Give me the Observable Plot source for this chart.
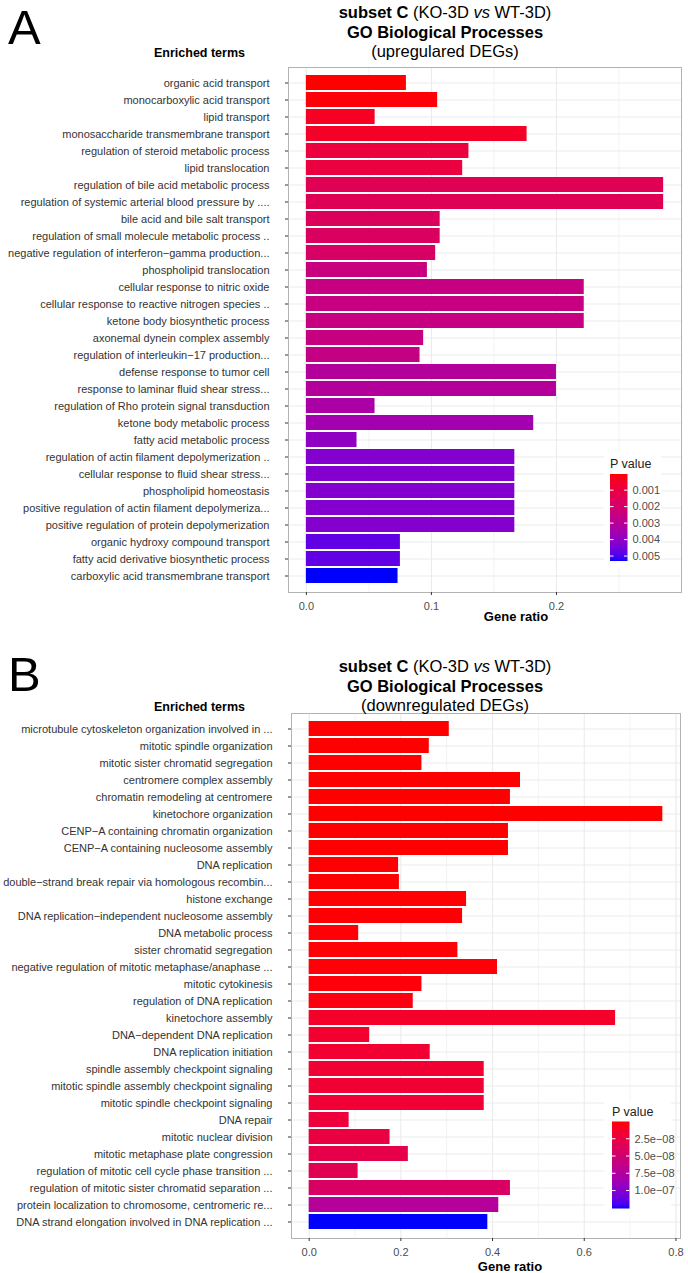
<!DOCTYPE html>
<html>
<head>
<meta charset="utf-8">
<script src="https://cdn.jsdelivr.net/npm/d3@7"></script>
<script src="https://cdn.jsdelivr.net/npm/@observablehq/plot@0.6"></script>
<style>
  html, body { margin: 0; padding: 0; background: #fff; }
  #page { position: relative; width: 688px; height: 1273px; background: #fff; overflow: hidden; }
  .chart { position: absolute; left: 0; }
  #overlay { position: absolute; left: 0; top: 0; pointer-events: none; }
</style>
</head>
<body>
<div id="page">
  <div id="chartA" class="chart" style="top:0px"></div>
  <div id="chartB" class="chart" style="top:646px"></div>
</div>
<script>
// ---------------- DATA ----------------
const termsA = [
  "organic acid transport",
  "monocarboxylic acid transport",
  "lipid transport",
  "monosaccharide transmembrane transport",
  "regulation of steroid metabolic process",
  "lipid translocation",
  "regulation of bile acid metabolic process",
  "regulation of systemic arterial blood pressure by ....",
  "bile acid and bile salt transport",
  "regulation of small molecule metabolic process ..",
  "negative regulation of interferon\u2212gamma production...",
  "phospholipid translocation",
  "cellular response to nitric oxide",
  "cellular response to reactive nitrogen species ..",
  "ketone body biosynthetic process",
  "axonemal dynein complex assembly",
  "regulation of interleukin\u221217 production...",
  "defense response to tumor cell",
  "response to laminar fluid shear stress...",
  "regulation of Rho protein signal transduction",
  "ketone body metabolic process",
  "fatty acid metabolic process",
  "regulation of actin filament depolymerization ..",
  "cellular response to fluid shear stress...",
  "phospholipid homeostasis",
  "positive regulation of actin filament depolymeriza...",
  "positive regulation of protein depolymerization",
  "organic hydroxy compound transport",
  "fatty acid derivative biosynthetic process",
  "carboxylic acid transmembrane transport"
];
const ratioA = [
  0.080, 0.105, 0.055, 0.1765, 0.130, 0.125, 0.2857, 0.2857, 0.107, 0.107,
  0.1034, 0.0968, 0.2222, 0.2222, 0.2222, 0.0938, 0.0909, 0.200, 0.200, 0.0549,
  0.1818, 0.0405, 0.1667, 0.1667, 0.1667, 0.1667, 0.1667, 0.0752, 0.0752, 0.0733
];
const pA = [
  0.00002, 0.00008, 0.00045, 0.00050, 0.00095, 0.00100, 0.00145, 0.00150, 0.00165, 0.00170,
  0.00185, 0.00240, 0.00250, 0.00250, 0.00250, 0.00245, 0.00255, 0.00310, 0.00310, 0.00335,
  0.00355, 0.00400, 0.00425, 0.00425, 0.00425, 0.00425, 0.00425, 0.00475, 0.00475, 0.00530
];

const termsB = [
  "microtubule cytoskeleton organization involved in ...",
  "mitotic spindle organization",
  "mitotic sister chromatid segregation",
  "centromere complex assembly",
  "chromatin remodeling at centromere",
  "kinetochore organization",
  "CENP\u2212A containing chromatin organization",
  "CENP\u2212A containing nucleosome assembly",
  "DNA replication",
  "double\u2212strand break repair via homologous recombin...",
  "histone exchange",
  "DNA replication\u2212independent nucleosome assembly",
  "DNA metabolic process",
  "sister chromatid segregation",
  "negative regulation of mitotic metaphase/anaphase ...",
  "mitotic cytokinesis",
  "regulation of DNA replication",
  "kinetochore assembly",
  "DNA\u2212dependent DNA replication",
  "DNA replication initiation",
  "spindle assembly checkpoint signaling",
  "mitotic spindle assembly checkpoint signaling",
  "mitotic spindle checkpoint signaling",
  "DNA repair",
  "mitotic nuclear division",
  "mitotic metaphase plate congression",
  "regulation of mitotic cell cycle phase transition ...",
  "regulation of mitotic sister chromatid separation ...",
  "protein localization to chromosome, centromeric re...",
  "DNA strand elongation involved in DNA replication ..."
];
const ratioB = [
  0.3056, 0.262, 0.246, 0.461, 0.439, 0.7714, 0.4347, 0.4347, 0.195, 0.1968,
  0.3433, 0.3346, 0.108, 0.3244, 0.4108, 0.246, 0.227, 0.6684, 0.132, 0.264,
  0.3818, 0.3818, 0.3818, 0.0871, 0.1764, 0.2163, 0.1067, 0.439, 0.4136, 0.3897
];
const pB = [
  1e-11, 2e-11, 3e-11, 5e-11, 8e-11, 1e-10, 2e-10, 3e-10, 4e-10, 5e-10,
  6e-10, 8e-10, 1e-9, 1.2e-9, 1.5e-9, 2e-9, 4e-9, 1.2e-8, 1.5e-8, 1.6e-8,
  1.7e-8, 1.7e-8, 1.75e-8, 2.1e-8, 2.4e-8, 2.8e-8, 3.2e-8, 4.2e-8, 7.2e-8, 1.26e-7
];

const xTicksA = [0, 0.1, 0.2];
const xTickLabelsA = ["0.0", "0.1", "0.2"];
const xMinorA = [0.05, 0.15, 0.25];
const xTicksB = [0, 0.2, 0.4, 0.6, 0.8];
const xTickLabelsB = ["0.0", "0.2", "0.4", "0.6", "0.8"];
const xMinorB = [0.1, 0.3, 0.5, 0.7];

const legendTicksA = [0.001, 0.002, 0.003, 0.004, 0.005];
const legendLabelsA = ["0.001", "0.002", "0.003", "0.004", "0.005"];
const legendTicksB = [2.5e-8, 5.0e-8, 7.5e-8, 1.0e-7];
const legendLabelsB = ["2.5e\u221208", "5.0e\u221208", "7.5e\u221208", "1.0e\u221207"];

const titleSubtitleA = "(upregulared DEGs)";
const titleSubtitleB = "(downregulated DEGs)";

// ---------------- RENDER ----------------
const FONT = "'Liberation Sans', Arial, Helvetica, sans-serif";
const W = 688, H = 625, MT = 67, MB = 33;

function colorOptions(p) {
  return { type: "linear", domain: d3.extent(p), range: ["#FF0000", "#0000FF"], interpolate: "lab" };
}

function makeChart(terms, ratio, p, ticks, tickLabels, minor, ml, mr) {
  const data = terms.map((t, i) => ({ term: t, ratio: ratio[i], p: p[i] }));
  const mx = d3.max(ratio);
  return Plot.plot({
    width: W, height: H,
    marginLeft: ml, marginRight: mr, marginTop: MT, marginBottom: MB,
    style: { fontFamily: FONT, fontSize: "11px", color: "#333", background: "#fff", overflow: "visible" },
    x: { domain: [-0.05 * mx, 1.05 * mx] },
    y: { domain: terms, paddingInner: 0.1, paddingOuter: 0.15 },
    color: colorOptions(p),
    marks: [
      Plot.ruleX(minor, { stroke: "#EBEBEB", strokeWidth: 0.6 }),
      Plot.ruleX(ticks, { stroke: "#EBEBEB", strokeWidth: 1.1 }),
      Plot.gridY({ stroke: "#EBEBEB", strokeOpacity: 1, strokeWidth: 1.1 }),
      Plot.barX(data, { y: "term", x1: 0, x2: "ratio", fill: "p" }),
      Plot.frame({ stroke: "#B3B3B3", strokeWidth: 1 }),
      Plot.axisY({ tickSize: 3, tickPadding: 16, label: null, stroke: "#333", fill: "#333", fontSize: 11 }),
      Plot.axisX({ ticks: ticks, tickSize: 3, tickPadding: 7, label: null, stroke: "#333", fill: "#4D4D4D",
                   tickFormat: d => tickLabels[ticks.indexOf(d)], fontSize: 11 })
    ]
  });
}

const chartA = makeChart(termsA, ratioA, pA, xTicksA, xTickLabelsA, xMinorA, 288, 7);
const chartB = makeChart(termsB, ratioB, pB, xTicksB, xTickLabelsB, xMinorB, 291, 8);
document.getElementById("chartA").appendChild(chartA);
document.getElementById("chartB").appendChild(chartB);

// ---------------- OVERLAY (titles, letters, legends) ----------------
const svg = d3.select("#page").append("svg")
  .attr("id", "overlay").attr("width", W).attr("height", 1273)
  .style("font-family", FONT);

function panelText(dy, letter, letterY, subtitle, geneX, geneY) {
  svg.append("text").attr("x", 8).attr("y", letterY).attr("font-size", 49).attr("fill", "#000").text(letter);
  const t = svg.append("text").attr("text-anchor", "middle").attr("font-size", 16.5).attr("fill", "#000");
  const l1 = t.append("tspan").attr("x", 445).attr("y", dy + 18);
  l1.append("tspan").attr("font-weight", "bold").text("subset C");
  l1.append("tspan").text(" (KO-3D ");
  l1.append("tspan").attr("font-style", "italic").text("vs");
  l1.append("tspan").text(" WT-3D)");
  t.append("tspan").attr("x", 445).attr("y", dy + 37.5).attr("font-weight", "bold").text("GO Biological Processes");
  t.append("tspan").attr("x", 445).attr("y", dy + 57).text(subtitle);
  svg.append("text").attr("x", 245).attr("y", dy + 57).attr("text-anchor", "end")
    .attr("font-size", 12.5).attr("font-weight", "bold").attr("fill", "#000").text("Enriched terms");
  svg.append("text").attr("x", geneX).attr("y", geneY).attr("text-anchor", "middle")
    .attr("font-size", 13).attr("font-weight", "bold").attr("fill", "#000").text("Gene ratio");
}

function legend(p, ticks, labels, cfg) {
  const cs = Plot.scale({ color: colorOptions(p) });
  const dom = d3.extent(p);
  const yS = d3.scaleLinear().domain(dom).range([cfg.top, cfg.top + cfg.h]);
  const g = svg.append("g");
  g.append("rect").attr("x", cfg.bx).attr("y", cfg.by).attr("width", cfg.bw).attr("height", cfg.bh).attr("fill", "#fff");
  g.append("text").attr("x", cfg.x).attr("y", cfg.top - 6).attr("font-size", 12.5).attr("fill", "#222").text("P value");
  const id = "grad" + Math.round(cfg.top);
  const grad = svg.append("defs").append("linearGradient").attr("id", id)
    .attr("x1", 0).attr("x2", 0).attr("y1", 0).attr("y2", 1);
  d3.range(0, 1.0001, 0.02).forEach(f => {
    grad.append("stop").attr("offset", f).attr("stop-color", cs.apply(dom[0] + f * (dom[1] - dom[0])));
  });
  g.append("rect").attr("x", cfg.x).attr("y", cfg.top).attr("width", cfg.w).attr("height", cfg.h).attr("fill", `url(#${id})`);
  ticks.forEach((v, i) => {
    const y = yS(v);
    g.append("line").attr("x1", cfg.x).attr("x2", cfg.x + 3.5).attr("y1", y).attr("y2", y).attr("stroke", "#fff").attr("stroke-width", 1);
    g.append("line").attr("x1", cfg.x + cfg.w - 3.5).attr("x2", cfg.x + cfg.w).attr("y1", y).attr("y2", y).attr("stroke", "#fff").attr("stroke-width", 1);
    g.append("text").attr("x", cfg.x + cfg.w + 5).attr("y", y).attr("dy", "0.35em").attr("font-size", 11).attr("fill", "#4D4D4D").text(labels[i]);
  });
}

panelText(0, "A", 44, titleSubtitleA, 516, 620.5);
panelText(654, "B", 691, titleSubtitleB, 510, 1271);
legend(pA, legendTicksA, legendLabelsA, { x: 610, w: 17.5, top: 474, h: 87, bx: 604, by: 452, bw: 57, bh: 115 });
legend(pB, legendTicksB, legendLabelsB, { x: 612, w: 17.5, top: 1121.5, h: 87, bx: 604, by: 1102, bw: 67, bh: 116 });
</script>
</body>
</html>
